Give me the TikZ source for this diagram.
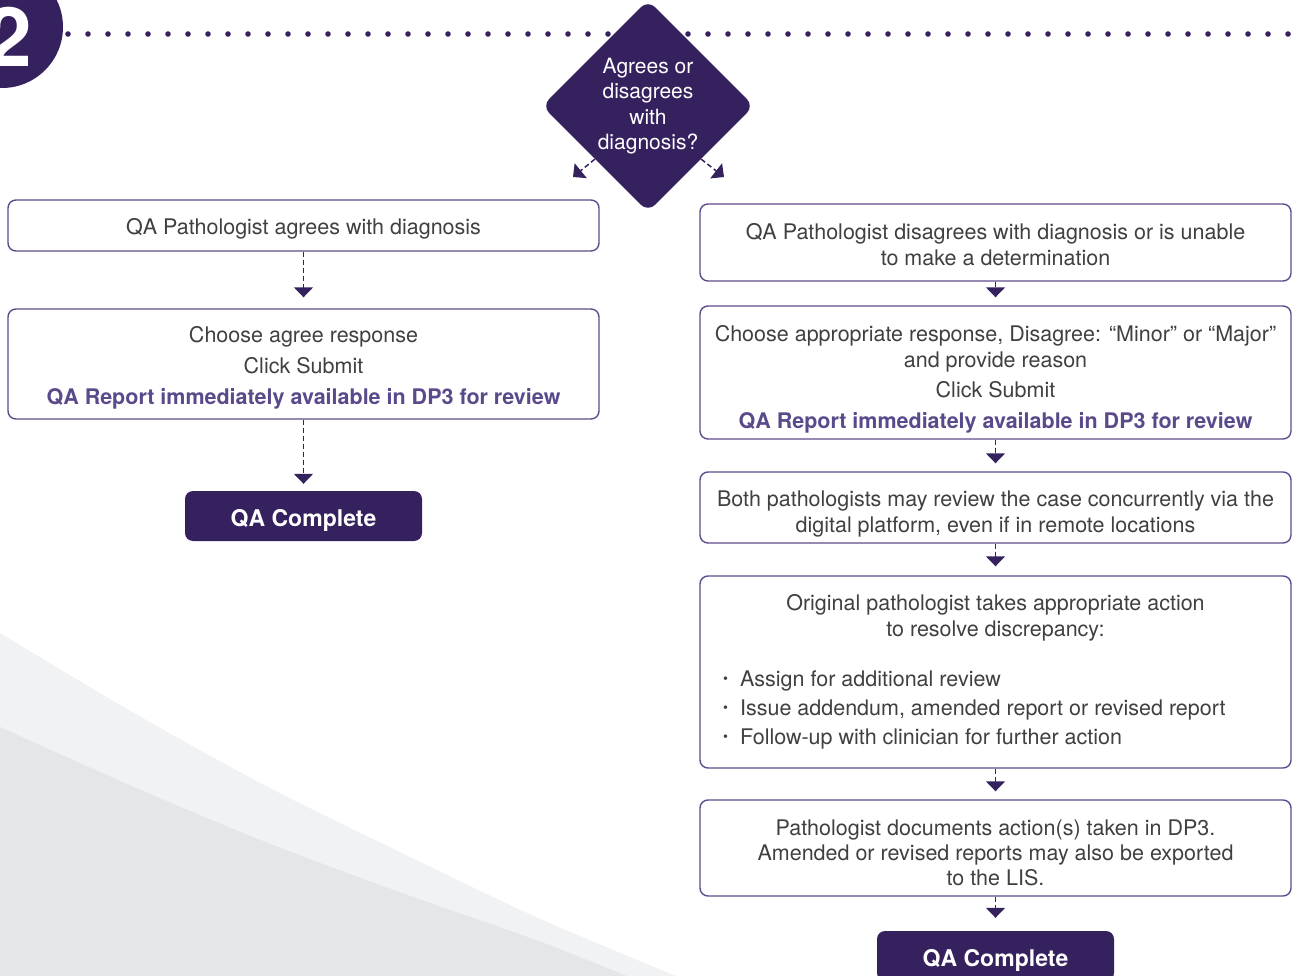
\documentclass[tikz,border=0pt]{standalone}
\usepackage{fontspec}
\setmainfont{TeX Gyre Heros}
\usetikzlibrary{shapes.geometric,arrows.meta}
\definecolor{dkp}{HTML}{35215E}
\definecolor{bord}{HTML}{5E4C8C}
\definecolor{boldp}{HTML}{5B4A8B}
\definecolor{gtext}{HTML}{404040}
\definecolor{bgA}{HTML}{F1F2F4}
\definecolor{bgB}{HTML}{E5E6E8}
\newcommand{\bul}{{\fontsize{14}{14}\selectfont\raisebox{3pt}{•}}\hspace{12pt}}
\begin{document}
\begin{tikzpicture}[x=1pt,y=-1pt,
  txt/.style={text=gtext,font=\fontsize{21.5}{26}\selectfont,align=center,inner sep=0pt},
  box/.style={draw=bord,line width=1.4pt,rounded corners=8pt,minimum width=591pt,fill=white,inner sep=0pt},
  btn/.style={fill=dkp,rounded corners=8pt,minimum width=237pt,minimum height=50pt,inner sep=0pt},
  btntxt/.style={text=white,font=\fontsize{23}{26}\selectfont\bfseries,inner sep=0pt},
  decision/.style={diamond,fill=dkp,minimum width=212pt,minimum height=212pt,inner sep=0pt,rounded corners=10pt},
  conn/.style={draw=dkp,line width=1.5pt,dash pattern=on 5pt off 3pt,-{Triangle[width=19pt,length=10pt]},shorten >=8pt}
]
\useasboundingbox (0,0) rectangle (1296,976);
\clip (0,0) rectangle (1296,976);
% background swooshes
\fill[bgA] (-10,626) plot[smooth] coordinates {(0,633) (134,713) (268,787) (402,853) (536,917) (676,976)} -- (676,990) -- (-10,990) -- cycle;
\fill[bgB] (-10,722) plot[smooth] coordinates {(0,727) (134,787) (268,843) (402,893) (536,940) (627,976)} -- (627,990) -- (-10,990) -- cycle;
% step number
\node[circle,fill=dkp,minimum size=122pt,inner sep=0pt] (num) at (2,27) {};
\node[text=white,font=\fontsize{82}{82}\selectfont\bfseries,inner sep=0pt] (numt) at (9,37) {2};
% dotted rule
\foreach \i in {0,...,61} { \fill[dkp] (68+20*\i,34) circle (2.8pt); }
% decision
\node[decision] (d) at (648,106) {};
\node[text=white,font=\fontsize{21}{25.3}\selectfont,align=center,inner sep=0pt] (dt) at (648,106) {Agrees or\\disagrees\\with\\diagnosis?};
\coordinate (dl) at (573,177);
\coordinate (dr) at (724,177);
\draw[conn,shorten >=0pt] (d.south west) -- (dl);
\draw[conn,shorten >=0pt] (d.south east) -- (dr);
% left branch
\node[box,minimum height=51pt] (l1) at (303.5,225.5) {};
\node[txt] (l1t) at (303.5,229) {QA Pathologist agrees with diagnosis};
\node[box,minimum height=110pt] (l2) at (303.5,364) {};
\node[txt] (l2t) at (303.5,368) {Choose agree response\\[5pt]Click Submit\\[5pt]{\color{boldp}\bfseries QA Report immediately available in DP3 for review}};
\node[btn] (l3) at (303.5,516) {};
\node[btntxt] (l3t) at (303.5,520) {QA Complete};
\draw[conn,shorten >=11pt] (l1) -- (l2);
\draw[conn,shorten >=7pt] (l2) -- (l3);
% right branch
\node[box,minimum height=77pt] (r1) at (995.5,242.5) {};
\node[txt] (r1t) at (995.5,245) {QA Pathologist disagrees with diagnosis or is unable\\to make a determination};
\node[box,minimum height=133pt] (r2) at (995.5,372.5) {};
\node[txt] (r2t) at (995.5,379) {Choose appropriate response, Disagree: “Minor” or “Major”\\and provide reason\\[4pt]Click Submit\\[5pt]{\color{boldp}\bfseries QA Report immediately available in DP3 for review}};
\node[box,minimum height=71pt] (r3) at (995.5,507.5) {};
\node[txt] (r3t) at (995.5,514) {Both pathologists may review the case concurrently via the\\digital platform, even if in remote locations};
\node[box,minimum height=192pt] (r4) at (995.5,672) {};
\node[txt] (r4t) at (995.5,617.5) {Original pathologist takes appropriate action\\to resolve discrepancy:};
\node[txt,anchor=west,align=left,font=\fontsize{21.5}{29}\selectfont] (r4b) at (723,710) {\bul Assign for additional review\\\bul Issue addendum, amended report or revised report\\\bul Follow-up with clinician for further action};
\node[box,minimum height=96pt] (r5) at (995.5,848) {};
\node[txt,font=\fontsize{21.5}{25}\selectfont] (r5t) at (995.5,853) {Pathologist documents action(s) taken in DP3.\\Amended or revised reports may also be exported\\to the LIS.};
\node[btn] (r6) at (995.5,956) {};
\node[btntxt] (r6t) at (995.5,960) {QA Complete};
\draw[conn] (r1) -- (r2);
\draw[conn] (r2) -- (r3);
\draw[conn,shorten >=9pt] (r3) -- (r4);
\draw[conn] (r4) -- (r5);
\draw[conn,shorten >=13pt] (r5) -- (r6);
\end{tikzpicture}
\end{document}
